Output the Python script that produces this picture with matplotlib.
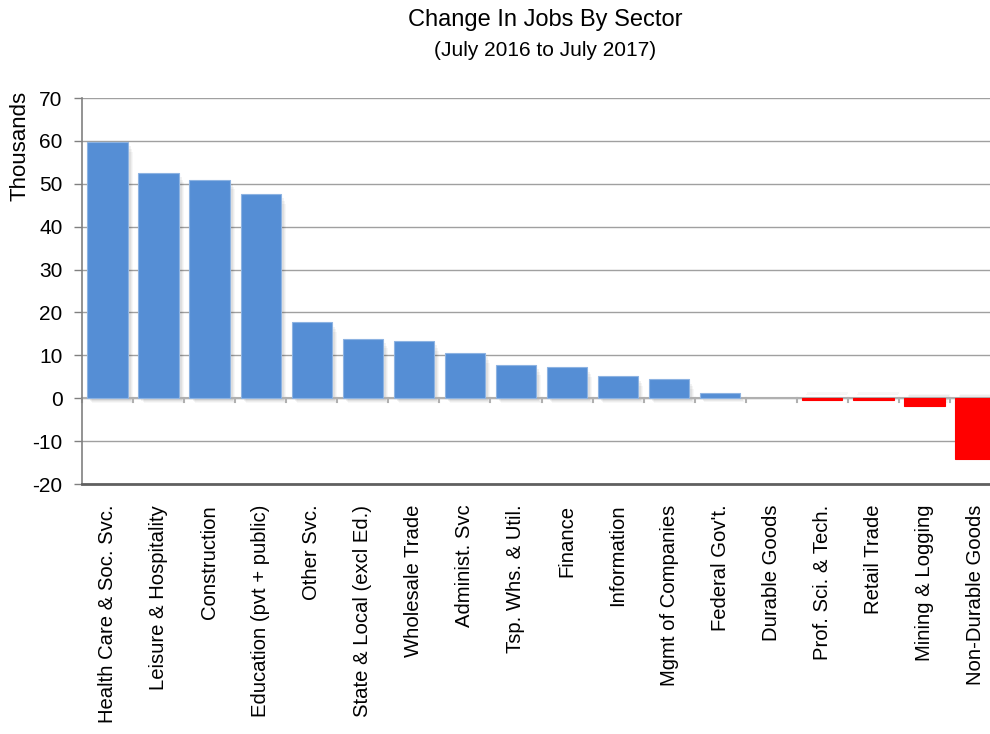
import matplotlib
matplotlib.use("Agg")
import matplotlib.pyplot as plt
import numpy as np

plt.rcParams['font.family'] = ['Liberation Sans', 'DejaVu Sans']

categories = ["Health Care & Soc. Svc.", "Leisure & Hospitality", "Construction",
              "Education (pvt + public)", "Other Svc.", "State & Local (excl Ed.)",
              "Wholesale Trade", "Administ. Svc", "Tsp. Whs. & Util.", "Finance",
              "Information", "Mgmt of Companies", "Federal Gov't.", "Durable Goods",
              "Prof. Sci. & Tech.", "Retail Trade", "Mining & Logging", "Non-Durable Goods"]
values = [59.7, 52.5, 50.9, 47.6, 17.7, 13.8, 13.3, 10.5, 7.7, 7.2, 5.1, 4.4, 1.2,
          0.0, -0.5, -0.5, -1.8, -14.2]
y_ticks = [-20, -10, 0, 10, 20, 30, 40, 50, 60, 70]

W, H = 990, 734
fig = plt.figure(figsize=(W / 100, H / 100), dpi=100)
ax = fig.add_axes([82 / W, (H - 484) / H, 919 / W, 386 / H])

x = np.arange(len(categories))
colors = ['#558ED5' if v >= 0 else '#FF0000' for v in values]

# soft shadow
for xi, v in zip(x, values):
    if v != 0:
        for k, a in enumerate([0.05, 0.04, 0.03]):
            ax.bar(xi + 0.06 + k * 0.02, v - (0.4 + k * 0.3) * np.sign(v), width=0.79,
                   bottom=-(0.4 + k * 0.3) * np.sign(v) if v < 0 else -0.6 - k * 0.3,
                   color='black', alpha=a, zorder=2, linewidth=0)

edge = ['#8DB3E2' if v > 0 else ('#FF0000' if v < 0 else 'none') for v in values]
ax.bar(x, values, width=0.79, color=colors, zorder=3, linewidth=0.8, edgecolor=edge)

ax.set_xlim(-0.5, len(categories) - 0.5)
ax.set_ylim(-20, 70)
ax.set_yticks(y_ticks)
ax.set_yticklabels([str(t) for t in y_ticks], fontsize=15)
ax.yaxis.grid(True, color='#A0A0A0', linewidth=1.0, zorder=0)
ax.set_axisbelow(True)

# zero line with category-boundary ticks
ax.axhline(0, color='#B0B0B0', linewidth=1.5, zorder=2.5)
for b in np.arange(len(categories) + 1) - 0.5:
    ax.plot([b, b], [0, -0.8], color='#B0B0B0', linewidth=1.5, zorder=2.5, clip_on=False)

ax.set_xticks(x)
ax.set_xticklabels(categories, rotation=90, fontsize=14.6, va='top', ha='center')
ax.tick_params(axis='x', length=0, pad=15)
ax.tick_params(axis='y', length=6, color='#808080', width=1, direction='out', pad=8)

for s in ['top', 'right']:
    ax.spines[s].set_visible(False)
ax.spines['left'].set_color('#808080')
ax.spines['left'].set_linewidth(1.2)
ax.spines['bottom'].set_color('#606060')
ax.spines['bottom'].set_linewidth(2)

fig.text(20 / W, 1 - 146 / H, "Thousands", rotation=90, ha='center', va='center', fontsize=16)

fig.text(545 / W, 1 - 20 / H, "Change In Jobs By Sector", ha='center', va='center', fontsize=17)
fig.text(545 / W, 1 - 50 / H, "(July 2016 to July 2017)", ha='center', va='center', fontsize=15)

fig.savefig("out.png", dpi=100)
